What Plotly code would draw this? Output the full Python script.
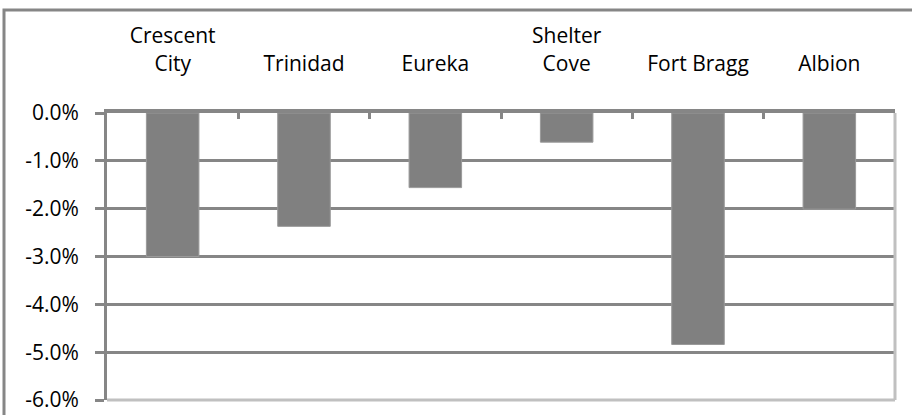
import plotly.graph_objects as go

categories = ["Crescent<br>City", "Trinidad", "Eureka", "Shelter<br>Cove", "Fort Bragg", "Albion"]
values = [-0.030, -0.0237, -0.0156, -0.0061, -0.0484, -0.0201]
y_ticks = [0, -0.01, -0.02, -0.03, -0.04, -0.05, -0.06]
y_tick_labels = ["0.0%", "-1.0%", "-2.0%", "-3.0%", "-4.0%", "-5.0%", "-6.0%"]

W, H = 912, 415
L, R, T, B = 107, 17, 113, 15
pw, ph = W - L - R, H - T - B

grid = "#868686"
light = "#c0c0c0"
font = dict(family="Open Sans", size=21, color="#000000")

fig = go.Figure(go.Bar(
    x=categories, y=values, width=0.4,
    marker=dict(color="#808080", line=dict(color="#9a9a9a", width=1)),
))

fig.update_layout(
    width=W, height=H,
    margin=dict(l=L, r=R, t=T, b=B, autoexpand=False),
    paper_bgcolor="white", plot_bgcolor="white",
    showlegend=False, font=font, bargap=0.6,
    xaxis=dict(
        side="top", type="category", showgrid=False, automargin=False,
        showline=True, linecolor=grid, linewidth=4,
        ticks="inside", tickson="boundaries", ticklen=6, tickwidth=3, tickcolor=grid,
        tickfont=font, ticklabelstandoff=30,
    ),
    yaxis=dict(
        range=[-0.06, 0], tickvals=y_ticks, ticktext=y_tick_labels, automargin=False,
        showgrid=True, gridcolor=grid, gridwidth=3, zeroline=False,
        showline=True, linecolor=grid, linewidth=3,
        ticks="outside", ticklen=9, tickwidth=3, tickcolor=grid,
        tickfont=font, ticklabelstandoff=12,
    ),
    shapes=[
        dict(type="line", xref="paper", yref="paper", x0=0, x1=1, y0=0, y1=0,
             line=dict(color=light, width=3), layer="above"),
        dict(type="line", xref="paper", yref="paper", x0=1, x1=1, y0=0, y1=1,
             line=dict(color=light, width=3), layer="above"),
        # outer chart border (pixel-sized, anchored at plot-area top-left)
        dict(type="rect", xref="paper", yref="paper",
             xsizemode="pixel", ysizemode="pixel", xanchor=0, yanchor=1,
             x0=4 - L, x1=W + 10 - L, y0=-(ph + B + 10), y1=T - 10,
             line=dict(color=grid, width=3), layer="above"),
    ],
)

fig.write_html(
    "out.html",
    config={"displayModeBar": False, "staticPlot": True},
    post_script="document.body.style.margin='0';document.body.style.overflow='hidden';",
)
